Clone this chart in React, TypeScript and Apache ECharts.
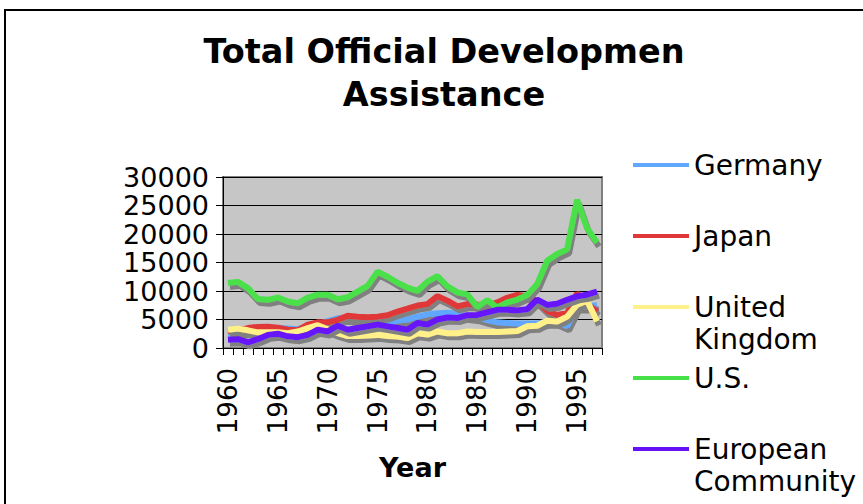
import React, { useEffect, useRef } from "react";
import * as echarts from "echarts";

const years: string[] = [
  "1960","1961","1962","1963","1964","1965","1966","1967","1968","1969",
  "1970","1971","1972","1973","1974","1975","1976","1977","1978","1979",
  "1980","1981","1982","1983","1984","1985","1986","1987","1988","1989",
  "1990","1991","1992","1993","1994","1995","1996","1997",
];

const germany: number[] = [
  2300, 2600, 3000, 3400, 3500, 3500, 3400, 3300, 3800, 4200,
  4700, 5200, 5300, 5000, 4700, 4500, 4400, 4800, 5000, 5500,
  5900, 6100, 6200, 6000, 5600, 5400, 4900, 4500, 4400, 4300,
  4300, 4300, 4600, 4600, 3800, 7300, 7300, 7500,
];

const japan: number[] = [
  3000, 3100, 3500, 3700, 3750, 3550, 3200, 3100, 4100, 4500,
  4500, 4950, 5650, 5500, 5400, 5500, 5750, 6400, 6900, 7450,
  7700, 9100, 8300, 7300, 7700, 7600, 7400, 8000, 8800, 9300,
  9100, 8200, 6500, 5800, 6100, 9600, 7700, 6400,
];

const unitedKingdom: number[] = [
  3200, 3400, 3100, 2750, 2750, 2750, 2600, 2900, 3500, 4000,
  3300, 2600, 2100, 2100, 2200, 2300, 2100, 2000, 1750, 2600,
  2350, 2900, 2600, 2600, 2900, 2800, 2800, 2800, 2900, 3000,
  3800, 3900, 4800, 4650, 5500, 7600, 8300, 4700,
];

const us: number[] = [
  11400, 11600, 10500, 8600, 8450, 8850, 8150, 7850, 8850, 9350,
  9350, 8550, 8900, 9900, 10900, 13400, 12500, 11450, 10600, 10000,
  11650, 12600, 10800, 9750, 9400, 7200, 8400, 7100, 8000, 8500,
  9300, 11200, 15300, 16500, 17300, 26000, 21000, 18500,
];

const europeanCommunity: number[] = [
  1450, 1550, 1000, 1550, 2300, 2500, 2050, 1900, 2300, 3200,
  2900, 3900, 3200, 3500, 3800, 4100, 3800, 3500, 3200, 4400,
  4100, 5000, 5350, 5250, 5750, 5800, 6250, 6700, 6700, 6600,
  6800, 8500, 7550, 7750, 8450, 9050, 9350, 9900,
];

const seriesNames: string[] = ["Germany", "Japan", "United Kingdom", "U.S.", "European Community"];
const legendLabels: string[] = ["Germany", "Japan", "United\nKingdom", "U.S.", "European\nCommunity"];
const seriesColors: string[] = ["#60a8ff", "#e03838", "#fff08a", "#48e048", "#6612f8"];
const yTicks: number[] = [0, 5000, 10000, 15000, 20000, 25000, 30000];

const FONT = "DejaVu Sans";

export default function App() {
  const ref = useRef<HTMLDivElement>(null);

  useEffect(() => {
    if (!ref.current) return;
    const chart = echarts.init(ref.current, undefined, { renderer: "svg" });
    const datasets = [germany, japan, unitedKingdom, us, europeanCommunity];

    const series = datasets.map((d, i) => ({
      name: seriesNames[i],
      type: "line",
      data: d,
      showSymbol: false,
      symbol: "none",
      z: 2 + i,
      lineStyle: {
        width: 6,
        color: seriesColors[i],
        shadowColor: "#808080",
        shadowBlur: 0,
        shadowOffsetX: 2,
        shadowOffsetY: 4,
      },
      itemStyle: { color: seriesColors[i] },
    }));

    chart.setOption({
      animation: false,
      color: seriesColors,
      backgroundColor: "#ffffff",
      graphic: [
        {
          type: "rect",
          shape: { x: 5, y: 10, width: 900, height: 600 },
          style: { fill: "none", stroke: "#000000", lineWidth: 2 },
          silent: true,
          z: 0,
        },
      ],
      title: {
        text: "Total Official Developmen\nAssistance",
        left: 444,
        top: 30,
        padding: 0,
        textAlign: "center",
        textStyle: {
          fontFamily: FONT,
          fontWeight: "bold",
          fontSize: 33.5,
          lineHeight: 43,
          color: "#000000",
        },
      },
      legend: {
        orient: "vertical",
        left: 633,
        top: 117,
        height: 390,
        padding: 0,
        itemGap: -25,
        itemWidth: 56,
        itemHeight: 4,
        icon: "rect",
        selectedMode: false,
        data: seriesNames,
        formatter: (name: string) => {
          const idx = seriesNames.indexOf(name);
          const label = legendLabels[idx];
          return label.indexOf("\n") >= 0 ? "\n" + label : "\n" + label + "\n";
        },
        itemStyle: { shadowBlur: 0, shadowOffsetX: 0, shadowOffsetY: 0, shadowColor: "transparent" },
        textStyle: {
          fontFamily: FONT,
          fontSize: 28,
          lineHeight: 32,
          color: "#000000",
        },
      },
      grid: {
        left: 223,
        right: 261,
        top: 177,
        bottom: 156,
        show: true,
        backgroundColor: "#c6c6c6",
        borderColor: "#808080",
        borderWidth: 2,
      },
      xAxis: {
        type: "category",
        data: years,
        boundaryGap: true,
        name: "Year",
        nameLocation: "middle",
        nameGap: 106,
        nameTextStyle: {
          fontFamily: FONT,
          fontWeight: "bold",
          fontSize: 27,
          color: "#000000",
        },
        axisLine: { show: true, lineStyle: { color: "#000000", width: 1 } },
        axisTick: { show: true, interval: 0, length: 7, lineStyle: { color: "#000000" } },
        axisLabel: {
          interval: 4,
          rotate: 90,
          margin: 20,
          fontFamily: FONT,
          fontSize: 26,
          color: "#000000",
        },
        splitLine: { show: false },
      },
      yAxis: {
        type: "value",
        min: yTicks[0],
        max: yTicks[yTicks.length - 1],
        interval: yTicks[1] - yTicks[0],
        axisLine: { show: true, lineStyle: { color: "#000000", width: 1 } },
        axisTick: { show: true, length: 7, lineStyle: { color: "#000000" } },
        axisLabel: {
          margin: 14,
          fontFamily: FONT,
          fontSize: 27,
          lineHeight: 26,
          color: "#000000",
          showMinLabel: true,
          showMaxLabel: true,
          hideOverlap: false,
          formatter: (v: number) => String(v),
        },
        splitLine: { show: true, lineStyle: { color: "#000000", width: 1 } },
      },
      series,
    });

    return () => {
      chart.dispose();
    };
  }, []);

  return (
    <div
      ref={ref}
      style={{ position: "fixed", left: 0, top: 0, width: 863, height: 504, background: "#ffffff" }}
    />
  );
}
